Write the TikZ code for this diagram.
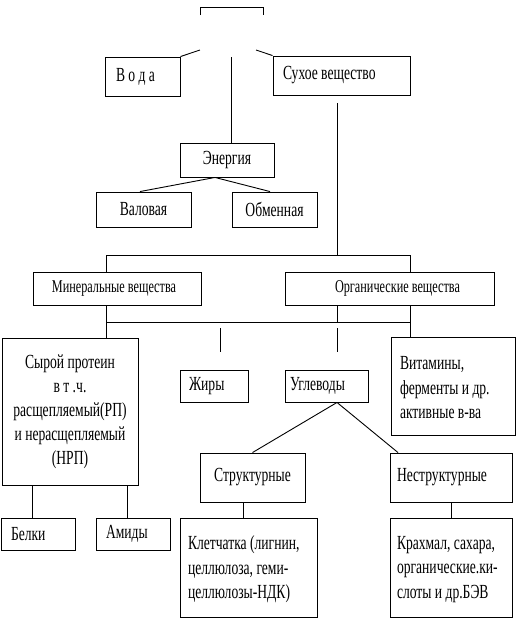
\documentclass[tikz,border=0pt]{standalone}
\usepackage{fontspec}
\setmainfont{Liberation Serif}[FakeStretch=0.68]
\begin{document}
\begin{tikzpicture}[x=1pt,y=-1pt, line width=0.9pt,
  box/.style={draw, inner sep=0pt, align=center, font=\fontsize{20}{24}\selectfont},
  txt/.style={anchor=west, inner sep=0pt, align=left, font=\fontsize{20}{24.5}\selectfont},
  smalltxt/.style={inner sep=0pt, font=\fontsize{18}{22}\selectfont}]
\useasboundingbox (0,0) rectangle (524,625);

% partial top box
\draw (200,15) -- (200,7) -- (263,7) -- (263,15);

% boxes
\node[box, minimum width=75pt, minimum height=39pt] (voda) at (142.5,76.5) {};
\node[txt] (vodaT) at ([xshift=11pt]voda.west) {В о д а};
\node[box, minimum width=137pt, minimum height=39pt] (sukhoe) at (341.5,75.5) {};
\node[txt] (sukhoeT) at ([xshift=10pt]sukhoe.west) {Сухое вещество};
\node[box, minimum width=94pt, minimum height=34pt] (energy) at (227,160) {Энергия};
\node[box, minimum width=95pt, minimum height=35pt] (valov) at (143.5,209.5) {Валовая};
\node[box, minimum width=85pt, minimum height=35pt] (obmen) at (274.5,209.5) {Обменная};
\node[box, minimum width=168pt, minimum height=33pt] (mineral) at (117,288.5) {};
\node[smalltxt] (mineralT) at (114,288.5) {Минеральные вещества};
\node[box, minimum width=209pt, minimum height=33pt] (organic) at (389.5,288.5) {};
\node[smalltxt] (organicT) at (397.5,288.5) {Органические вещества};
\node[box, minimum width=136pt, minimum height=147pt] (protein) at (70,411.5)
  {Сырой протеин\\в т .ч.\\расщепляемый(РП)\\и нерасщепляемый\\(НРП)};
\node[box, minimum width=68pt, minimum height=32pt] (fat) at (214,386) {};
\node[txt] (fatT) at ([xshift=9pt]fat.west) {Жиры};
\node[box, minimum width=83pt, minimum height=32pt] (ugl) at (326.5,386) {};
\node[txt] (uglT) at ([xshift=5pt]ugl.west) {Углеводы};
\node[box, minimum width=124pt, minimum height=98pt] (vitamin) at (453,386) {};
\node[txt] (vitaminT) at ([xshift=9pt,yshift=-2pt]vitamin.west) {Витамины,\\ферменты и др.\\активные в-ва};
\node[box, minimum width=105pt, minimum height=49pt] (struct) at (252.5,477.5) {Структурные};
\node[box, minimum width=122pt, minimum height=49pt] (nestr) at (451,477.5) {};
\node[txt] (nestrT) at ([xshift=7pt]nestr.west) {Неструктурные};
\node[box, minimum width=74pt, minimum height=32pt] (belki) at (38,534) {};
\node[txt] (belkiT) at ([xshift=10pt]belki.west) {Белки};
\node[box, minimum width=74pt, minimum height=32pt] (amidy) at (133,534) {};
\node[txt] (amidyT) at ([xshift=10pt]amidy.west) {Амиды};
\node[box, minimum width=137pt, minimum height=99pt] (kletch) at (248.5,567.5) {};
\node[txt] (kletchT) at ([xshift=8pt,yshift=-2pt]kletch.west) {Клетчатка (лигнин,\\целлюлоза, геми-\\целлюлозы-НДК)};
\node[box, minimum width=122pt, minimum height=99pt] (krakh) at (451,567.5) {};
\node[txt] (krakhT) at ([xshift=7pt,yshift=-2pt]krakh.west) {Крахмал, сахара,\\органические.ки-\\слоты и др.БЭВ};

% connectors
\coordinate (t1) at (200,50);
\coordinate (t2) at (256,50);
\coordinate (t3) at (231,57);
\draw (t1) -- (voda.north east);
\draw (t2) -- (sukhoe.north west);
\draw (t3) -- (t3 |- energy.north);

\draw ([xshift=-12pt]energy.south) -- ([xshift=-3.5pt]valov.north);
\draw ([xshift=-12pt]energy.south) -- ([xshift=-4.5pt]obmen.north);

\coordinate (s0) at (337,103);
\coordinate (j1) at (106,255);
\coordinate (j2) at (410,255);
\coordinate (j3) at (337,255);
\draw (s0) -- (j3);
\draw (j1) -- (j2);
\draw (j1) -- (j1 |- mineral.north);
\draw (j2) -- (j2 |- organic.north);

\coordinate (k1) at (106,322);
\coordinate (k2) at (410,322);
\draw (k1) -- (k2);
\draw (k1 |- mineral.south) -- (k1 |- protein.north);
\draw (k2 |- organic.south) -- (k2 |- vitamin.north);
\draw (j3 |- organic.south) -- (j3 |- k1);

\coordinate (f1) at (220,328);
\coordinate (f2) at (220,352);
\coordinate (u1) at (337,328);
\coordinate (u2) at (337,352);
\draw (f1) -- (f2);
\draw (u1) -- (u2);

\draw ([xshift=10.5pt]ugl.south) -- (struct.north);
\draw ([xshift=10.5pt]ugl.south) -- ([xshift=-53pt]nestr.north);

\coordinate (c1) at (243,0);
\draw (c1 |- struct.south) -- (c1 |- kletch.north);
\draw (nestr.south) -- (krakh.north);

\coordinate (b1) at (32,0);
\coordinate (b2) at (127,0);
\draw (b1 |- protein.south) -- (b1 |- belki.north);
\draw (b2 |- protein.south) -- (b2 |- amidy.north);
\end{tikzpicture}
\end{document}
